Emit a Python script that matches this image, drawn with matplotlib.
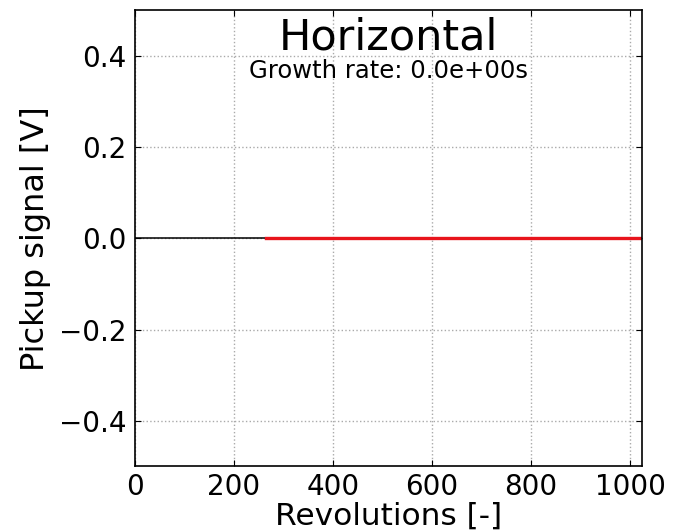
import numpy as np
import matplotlib
matplotlib.use('Agg')
from matplotlib import pyplot as plt

# signal before the fit window (black) and fitted part (red)
raw_turns = [0, 265]
raw_signal = [0.0, 0.0]
fit_turns = [265, 1024]
fit_signal = [0.0, 0.0]

title = 'Horizontal'
growth_rate = 0.0
xticks = [0, 200, 400, 600, 800, 1000]
yticks = [-0.4, -0.2, 0.0, 0.2, 0.4]

fig = plt.figure(figsize=(6.75, 5.3), dpi=100)
ax = fig.add_axes([0.2, 0.12, 0.751, 0.861])

ax.plot(raw_turns, raw_signal, color='black', lw=1.1)
ax.plot(fit_turns, fit_signal, color='#e8141c', lw=2.4)

ax.set_xlim(0, 1024)
ax.set_ylim(-0.5, 0.5)
ax.set_xticks(xticks)
ax.set_yticks(yticks)
ax.grid(True, color='#aaaaaa', linestyle=':', lw=1)
ax.tick_params(direction='in', top=True, right=True, labelsize=20, length=4)
ax.tick_params(axis='x', pad=5)
ax.tick_params(axis='y', pad=6)
for s in ax.spines.values():
    s.set_linewidth(1.2)

ax.set_xlabel('Revolutions [-]', fontsize=22.5, labelpad=0)
ax.set_ylabel('Pickup signal [V]', fontsize=23, labelpad=6)

ax.text(0.5, 0.9146, title, transform=ax.transAxes, ha='center', va='baseline', fontsize=31)
ax.text(0.5, 0.851, 'Growth rate: %.1es' % growth_rate, transform=ax.transAxes,
        ha='center', va='baseline', fontsize=17.5)

fig.savefig('out.png', dpi=100)
